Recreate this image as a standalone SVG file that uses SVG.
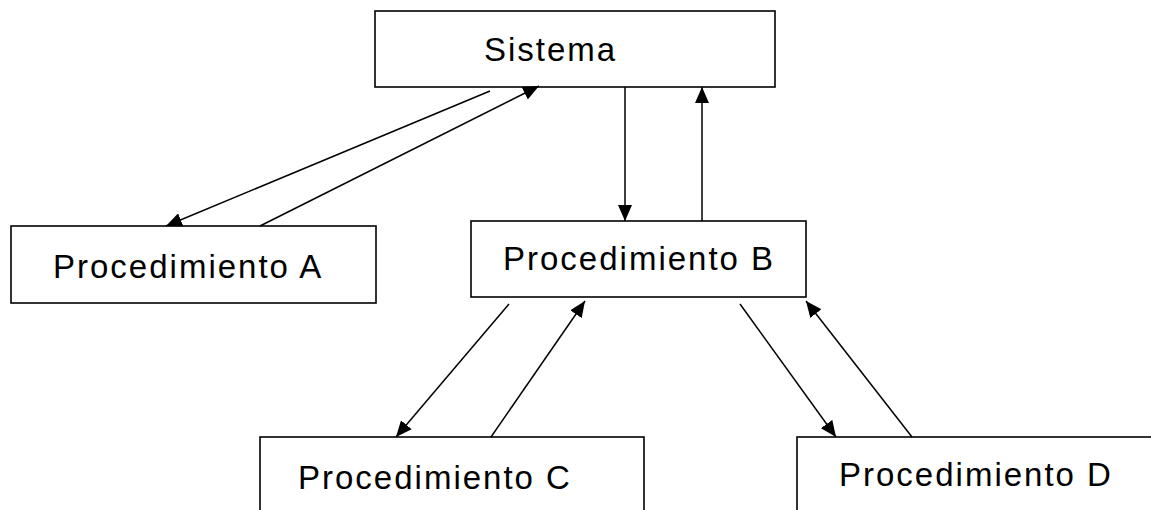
<svg xmlns="http://www.w3.org/2000/svg" width="1151" height="510" viewBox="0 0 1151 510">
<style>
.box{fill:#fff;stroke:#000;stroke-width:1.6}
.lbl{font-family:"Liberation Sans",Arial,sans-serif;font-size:33px;letter-spacing:2px;fill:#000}
.con{stroke:#000;stroke-width:1.5;fill:none;marker-end:url(#ah)}
</style>
<defs>
<marker id="ah" markerUnits="userSpaceOnUse" markerWidth="17" markerHeight="14" refX="16" refY="7" orient="auto">
<path d="M0,0 L16,7 L0,14 z" fill="#000"/>
</marker>
</defs>
<g id="sistema"><rect class="box" x="375" y="11" width="400" height="76"/><text class="lbl" x="484" y="61">Sistema</text></g>
<g id="procA"><rect class="box" x="11" y="226" width="365" height="77"/><text class="lbl" x="53" y="278">Procedimiento A</text></g>
<g id="procB"><rect class="box" x="471" y="221" width="335" height="76"/><text class="lbl" x="503" y="270">Procedimiento B</text></g>
<g id="procC"><rect class="box" x="260" y="437" width="384" height="90"/><text class="lbl" x="298" y="489">Procedimiento C</text></g>
<g id="procD"><rect class="box" x="797" y="437" width="370" height="90"/><text class="lbl" x="839" y="486">Procedimiento D</text></g>
<g id="connectors">
<line class="con" x1="490" y1="91" x2="166" y2="226"/>
<line class="con" x1="260" y1="226" x2="539" y2="86"/>
<line class="con" x1="625" y1="87" x2="625" y2="221"/>
<line class="con" x1="702" y1="221" x2="702" y2="87"/>
<line class="con" x1="509" y1="304" x2="396" y2="437"/>
<line class="con" x1="491" y1="437" x2="585" y2="301"/>
<line class="con" x1="740" y1="304" x2="836" y2="437"/>
<line class="con" x1="912" y1="437" x2="806" y2="301"/>
</g>
</svg>
